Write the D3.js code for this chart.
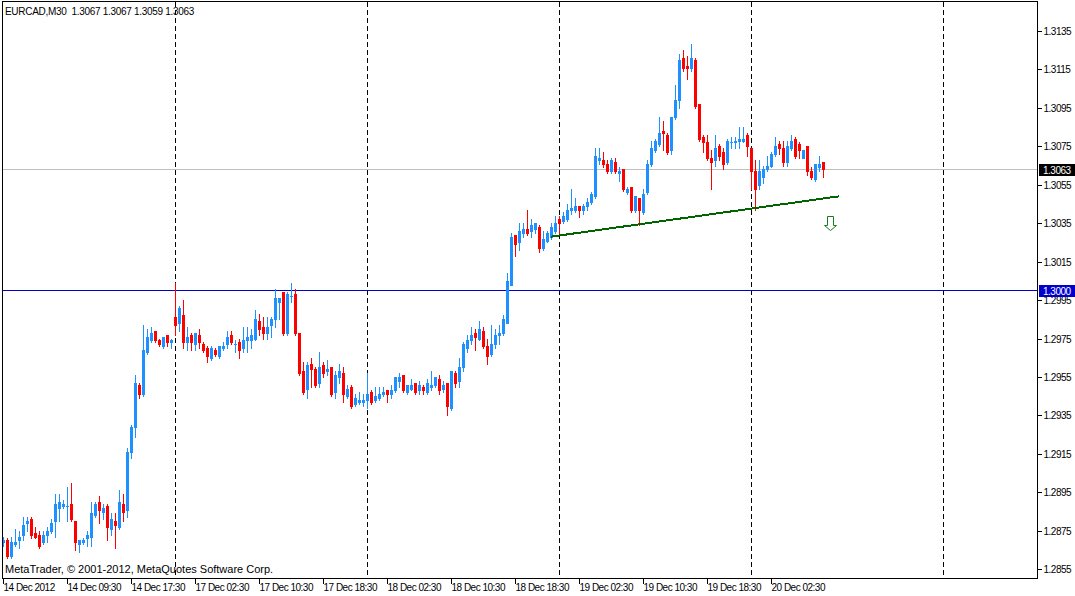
<!DOCTYPE html>
<html lang="en">
<head>
    <meta charset="UTF-8">
    <title>EURCAD,M30</title>
    <style>
        html, body {
            margin: 0;
            padding: 0;
            background: #fff;
        }
        #chart {
            width: 1075px;
            height: 596px;
        }
        svg text {
            font-family: "Liberation Sans", Arial, sans-serif;
            fill: #000;
        }
    </style>
    <script src="https://d3js.org/d3.v7.min.js"></script>
</head>
<body>
    <div id="chart"></div>
    <script>
        // EURCAD M30 bars (oldest first)
        const opens = [
            1.2869,1.2870,1.2862,1.2868,1.2870,1.2873,1.2879,1.2881,1.2874,1.2873,
            1.2869,1.2873,1.2875,1.2880,1.2887,1.2888,1.2888,1.2889,1.2880,1.2868,
            1.2869,1.2871,1.2872,1.2883,1.2890,1.2885,1.2888,1.2876,1.2880,1.2877,
            1.2889,1.2886,1.2916,1.2929,1.2951,1.2946,1.2968,1.2974,1.2979,1.2974,
            1.2971,1.2977,1.2973,1.2986,1.2983,1.2987,1.2973,1.2977,1.2972,1.2977,
            1.2972,1.2970,1.2965,1.2969,1.2966,1.2970,1.2972,1.2977,1.2972,1.2973,
            1.2970,1.2974,1.2974,1.2975,1.2984,1.2981,1.2978,1.2982,1.2985,1.2994,
            1.2999,1.2978,1.2997,1.2998,1.2978,1.2958,1.2949,1.2962,1.2959,1.2952,
            1.2961,1.2958,1.2960,1.2947,1.2955,1.2957,1.2945,1.2950,1.2941,1.2942,
            1.2942,1.2943,1.2947,1.2943,1.2944,1.2946,1.2948,1.2946,1.2948,1.2953,
            1.2956,1.2947,1.2949,1.2952,1.2948,1.2950,1.2947,1.2950,1.2951,1.2954,
            1.2949,1.2952,1.2939,1.2957,1.2953,1.2960,1.2970,1.2974,1.2978,1.2975,
            1.2979,1.2971,1.2967,1.2972,1.2977,1.2978,1.2983,1.3003,1.3029,1.3025,
            1.3030,1.3032,1.3031,1.3032,1.3033,1.3022,1.3026,1.3028,1.3031,1.3037,
            1.3036,1.3037,1.3042,1.3042,1.3044,1.3042,1.3044,1.3046,1.3049,1.3068,
            1.3068,1.3066,1.3062,1.3067,1.3061,1.3063,1.3051,1.3054,1.3042,1.3048,
            1.3041,1.3051,1.3066,1.3073,1.3076,1.3083,1.3081,1.3073,1.3090,1.3099,
            1.3121,1.3117,1.3116,1.3120,1.3097,1.3080,1.3077,1.3069,1.3068,1.3075,
            1.3072,1.3067,1.3077,1.3077,1.3078,1.3078,1.3081,1.3074,1.3062,1.3055,
            1.3059,1.3063,1.3065,1.3071,1.3076,1.3074,1.3067,1.3074,1.3079,1.3076,
            1.3069,1.3075,1.3062,1.3058,1.3064,1.3067
        ];
        const highs = [
            1.2872,1.2871,1.2872,1.2876,1.2875,1.2882,1.2882,1.2882,1.2877,1.2875,
            1.2875,1.2877,1.2881,1.2894,1.2894,1.2891,1.2898,1.2900,1.2880,1.2870,
            1.2871,1.2875,1.2890,1.2890,1.2893,1.2889,1.2889,1.2884,1.2884,1.2896,
            1.2894,1.2918,1.2930,1.2956,1.2952,1.2982,1.2980,1.2981,1.2979,1.2975,
            1.2976,1.2977,1.2975,1.3004,1.2992,1.2995,1.2981,1.2978,1.2978,1.2980,
            1.2973,1.2971,1.2971,1.2970,1.2971,1.2973,1.2979,1.2979,1.2974,1.2975,
            1.2981,1.2981,1.2980,1.2990,1.2988,1.2986,1.2986,1.2986,1.3001,1.2996,
            1.2999,1.2999,1.3004,1.3001,1.2978,1.2963,1.2963,1.2965,1.2960,1.2968,
            1.2963,1.2964,1.2960,1.2958,1.2962,1.2960,1.2951,1.2951,1.2946,1.2947,
            1.2946,1.2957,1.2948,1.2950,1.2950,1.2950,1.2948,1.2951,1.2955,1.2957,
            1.2956,1.2951,1.2954,1.2952,1.2953,1.2951,1.2954,1.2958,1.2955,1.2956,
            1.2953,1.2952,1.2958,1.2958,1.2965,1.2973,1.2977,1.2981,1.2980,1.2984,
            1.2981,1.2975,1.2982,1.2980,1.2982,1.2987,1.3009,1.3030,1.3029,1.3035,
            1.3035,1.3042,1.3037,1.3035,1.3034,1.3031,1.3031,1.3035,1.3039,1.3039,
            1.3041,1.3045,1.3053,1.3048,1.3044,1.3045,1.3048,1.3051,1.3074,1.3074,
            1.3072,1.3068,1.3069,1.3069,1.3064,1.3063,1.3054,1.3054,1.3049,1.3048,
            1.3053,1.3068,1.3078,1.3079,1.3090,1.3088,1.3082,1.3090,1.3107,1.3123,
            1.3125,1.3122,1.3128,1.3121,1.3097,1.3081,1.3081,1.3073,1.3081,1.3076,
            1.3074,1.3079,1.3080,1.3080,1.3085,1.3085,1.3082,1.3074,1.3068,1.3068,
            1.3065,1.3070,1.3072,1.3080,1.3078,1.3078,1.3078,1.3081,1.3080,1.3077,
            1.3073,1.3075,1.3064,1.3066,1.3070,1.3067
        ];
        const lows = [
            1.2867,1.2861,1.2861,1.2867,1.2866,1.2870,1.2875,1.2871,1.2871,1.2866,
            1.2868,1.2869,1.2874,1.2872,1.2880,1.2887,1.2880,1.2880,1.2865,1.2864,
            1.2868,1.2867,1.2867,1.2882,1.2879,1.2881,1.2870,1.2873,1.2866,1.2876,
            1.2880,1.2882,1.2913,1.2924,1.2944,1.2945,1.2967,1.2973,1.2973,1.2971,
            1.2970,1.2971,1.2970,1.2977,1.2979,1.2970,1.2969,1.2969,1.2969,1.2970,
            1.2968,1.2963,1.2964,1.2966,1.2965,1.2969,1.2970,1.2972,1.2968,1.2965,
            1.2968,1.2968,1.2970,1.2974,1.2977,1.2975,1.2975,1.2976,1.2981,1.2985,
            1.2977,1.2977,1.2994,1.2977,1.2956,1.2946,1.2944,1.2950,1.2950,1.2950,
            1.2955,1.2956,1.2945,1.2944,1.2952,1.2942,1.2944,1.2939,1.2940,1.2941,
            1.2940,1.2939,1.2941,1.2942,1.2943,1.2945,1.2942,1.2944,1.2947,1.2950,
            1.2947,1.2946,1.2948,1.2946,1.2946,1.2946,1.2946,1.2948,1.2950,1.2946,
            1.2947,1.2935,1.2938,1.2950,1.2950,1.2958,1.2968,1.2972,1.2969,1.2974,
            1.2970,1.2962,1.2966,1.2970,1.2972,1.2977,1.2983,1.3003,1.3018,1.3021,
            1.3028,1.3029,1.3028,1.3030,1.3020,1.3021,1.3025,1.3027,1.3030,1.3030,
            1.3035,1.3036,1.3040,1.3041,1.3038,1.3040,1.3042,1.3045,1.3048,1.3066,
            1.3064,1.3061,1.3061,1.3061,1.3057,1.3052,1.3050,1.3041,1.3041,1.3034,
            1.3040,1.3050,1.3065,1.3072,1.3075,1.3073,1.3071,1.3071,1.3089,1.3095,
            1.3114,1.3110,1.3114,1.3095,1.3078,1.3072,1.3068,1.3053,1.3065,1.3068,
            1.3063,1.3066,1.3074,1.3074,1.3074,1.3077,1.3070,1.3053,1.3042,1.3053,
            1.3056,1.3062,1.3064,1.3070,1.3071,1.3065,1.3065,1.3073,1.3069,1.3069,
            1.3069,1.3060,1.3058,1.3057,1.3062,1.3059
        ];
        const closes = [
            1.2870,1.2862,1.2869,1.2869,1.2872,1.2878,1.2880,1.2873,1.2872,1.2867,
            1.2873,1.2875,1.2879,1.2889,1.2890,1.2889,1.2888,1.2881,1.2869,1.2870,
            1.2870,1.2873,1.2884,1.2889,1.2886,1.2887,1.2877,1.2881,1.2878,1.2890,
            1.2885,1.2916,1.2929,1.2952,1.2946,1.2969,1.2976,1.2978,1.2974,1.2972,
            1.2976,1.2973,1.2974,1.2982,1.2991,1.2973,1.2976,1.2973,1.2978,1.2973,
            1.2969,1.2966,1.2970,1.2967,1.2971,1.2971,1.2976,1.2973,1.2972,1.2969,
            1.2974,1.2976,1.2977,1.2985,1.2980,1.2978,1.2981,1.2985,1.2996,1.2996,
            1.2978,1.2998,1.2997,1.2978,1.2957,1.2947,1.2961,1.2959,1.2951,1.2960,
            1.2957,1.2959,1.2946,1.2956,1.2958,1.2946,1.2949,1.2940,1.2944,1.2943,
            1.2943,1.2946,1.2942,1.2945,1.2946,1.2947,1.2946,1.2948,1.2955,1.2955,
            1.2948,1.2951,1.2951,1.2947,1.2951,1.2948,1.2952,1.2951,1.2955,1.2948,
            1.2951,1.2940,1.2958,1.2952,1.2960,1.2972,1.2974,1.2977,1.2976,1.2980,
            1.2971,1.2966,1.2972,1.2977,1.2978,1.2985,1.3005,1.3028,1.3024,1.3031,
            1.3032,1.3030,1.3034,1.3035,1.3022,1.3027,1.3030,1.3033,1.3035,1.3035,
            1.3039,1.3042,1.3043,1.3044,1.3042,1.3044,1.3046,1.3050,1.3070,1.3069,
            1.3066,1.3062,1.3068,1.3062,1.3062,1.3053,1.3053,1.3042,1.3049,1.3042,
            1.3050,1.3066,1.3074,1.3078,1.3082,1.3082,1.3072,1.3090,1.3099,1.3120,
            1.3116,1.3116,1.3121,1.3096,1.3079,1.3077,1.3069,1.3067,1.3074,1.3070,
            1.3066,1.3078,1.3077,1.3078,1.3079,1.3079,1.3075,1.3062,1.3053,1.3062,
            1.3063,1.3065,1.3071,1.3075,1.3074,1.3067,1.3075,1.3078,1.3070,1.3073,
            1.3073,1.3062,1.3059,1.3066,1.3066,1.3063
        ];

        const timeTickBars = [0, 16, 32, 48, 64, 80, 96, 112, 128, 144, 160, 176, 192];
        const timeLabels = [
            "14 Dec 2012", "14 Dec 09:30", "14 Dec 17:30", "17 Dec 02:30",
            "17 Dec 10:30", "17 Dec 18:30", "18 Dec 02:30", "18 Dec 10:30",
            "18 Dec 18:30", "19 Dec 02:30", "19 Dec 10:30", "19 Dec 18:30",
            "20 Dec 02:30"
        ];
        const priceTicks = [1.3135, 1.3115, 1.3095, 1.3075, 1.3055, 1.3035, 1.3015,
            1.2995, 1.2975, 1.2955, 1.2935, 1.2915, 1.2895, 1.2875, 1.2855];
        const separatorBars = [43, 91, 139, 187, 235];   // first bar of each day
        const bidPrice = 1.3063;
        const levelPrice = 1.3000;
        const trendPoints = [{ bar: 137, price: 1.3028 }, { bar: 209, price: 1.3049 }];
        const arrowPoint = { bar: 206.75, price: 1.3039 };
        const headerText = "EURCAD,M30  1.3067 1.3067 1.3059 1.3063";
        const copyrightText = "MetaTrader, \u00A9 2001-2012, MetaQuotes Software Corp.";

        const bars = opens.map((o, i) => ({
            i: i, open: o, high: highs[i], low: lows[i], close: closes[i]
        }));

        const W = 1075, H = 596;
        const plot = { left: 2, top: 1, right: 1037, bottom: 578 };
        const bullColor = "#1E90FF", bearColor = "#FF0000";

        const svg = d3.select("#chart").append("svg")
            .attr("width", W)
            .attr("height", H)
            .style("display", "block");

        svg.append("rect").attr("width", W).attr("height", H).attr("fill", "#fff");

        // one bar = 4px, bar 0 sits at x=3
        const x = d3.scaleLinear().domain([0, 100]).range([3, 403]);
        const y = d3.scaleLinear().domain([1.2855, 1.3135]).range([569.2, 31.0]);
        const px = i => Math.round(x(i));
        const py = p => Math.round(y(p));

        const g = svg.append("g").attr("shape-rendering", "crispEdges");

        // day separators
        g.selectAll("line.sep")
            .data(separatorBars)
            .enter().append("line")
            .attr("class", "sep")
            .attr("x1", d => px(d) + 0.5).attr("x2", d => px(d) + 0.5)
            .attr("y1", plot.top + 1).attr("y2", plot.bottom)
            .attr("stroke", "#000")
            .attr("stroke-dasharray", "5,3");

        // bid line and the 1.3000 level
        g.append("line")
            .attr("x1", plot.left).attr("x2", plot.right)
            .attr("y1", py(bidPrice) + 0.5).attr("y2", py(bidPrice) + 0.5)
            .attr("stroke", "#C0C0C0");
        g.append("line")
            .attr("x1", plot.left).attr("x2", plot.right)
            .attr("y1", py(levelPrice) + 0.5).attr("y2", py(levelPrice) + 0.5)
            .attr("stroke", "#0000CD");

        // candles
        const candle = g.selectAll("g.candle")
            .data(bars)
            .enter().append("g")
            .attr("class", "candle");

        candle.append("line")
            .attr("x1", d => px(d.i) + 0.5).attr("x2", d => px(d.i) + 0.5)
            .attr("y1", d => py(Math.max(d.high, d.open, d.close)))
            .attr("y2", d => py(Math.min(d.low, d.open, d.close)) + 1)
            .attr("stroke", d => d.close >= d.open ? bullColor : bearColor);

        candle.append("rect")
            .attr("x", d => px(d.i) - 1)
            .attr("width", 3)
            .attr("y", d => py(Math.max(d.open, d.close)))
            .attr("height", d => Math.max(1, py(Math.min(d.open, d.close)) - py(Math.max(d.open, d.close)) + 1))
            .attr("fill", d => d.close >= d.open ? bullColor : bearColor);

        // trend line
        g.append("path")
            .datum(trendPoints)
            .attr("d", d3.line().x(d => x(d.bar)).y(d => y(d.price)))
            .attr("fill", "none")
            .attr("stroke", "#006400")
            .attr("stroke-width", 2);

        // sell arrow
        const ax = px(arrowPoint.bar), ay = py(arrowPoint.price);
        svg.append("path")
            .attr("d", `M${ax - 2.5},${ay + 0.5} H${ax + 3.5} V${ay + 9.5} H${ax + 6.5}
                        L${ax + 0.5},${ay + 14.5} L${ax - 5.5},${ay + 9.5} H${ax - 2.5} Z`)
            .attr("fill", "#fff")
            .attr("stroke", "#1C7A1C")
            .attr("stroke-width", 1);

        // frame
        g.append("rect")
            .attr("x", plot.left + 0.5).attr("y", plot.top + 0.5)
            .attr("width", plot.right - plot.left).attr("height", plot.bottom - plot.top)
            .attr("fill", "none")
            .attr("stroke", "#000");

        // price scale
        const yAxis = svg.append("g")
            .attr("transform", `translate(${plot.right + 0.5},0)`)
            .attr("shape-rendering", "crispEdges")
            .call(d3.axisRight(y).tickValues(priceTicks).tickSize(4).tickPadding(2)
                .tickFormat(d3.format(".4f")));
        yAxis.select(".domain").remove();
        yAxis.selectAll(".tick").attr("transform", d => `translate(0,${py(d) + 0.5})`);
        yAxis.selectAll(".tick line").attr("stroke", "#000");
        yAxis.selectAll(".tick text")
            .attr("font-family", null)
            .style("font-size", "10px")
            .style("letter-spacing", "-0.5px");

        // price boxes
        const boxes = [
            { price: bidPrice, fill: "#000" },
            { price: levelPrice, fill: "#0000CD" }
        ];
        const box = svg.selectAll("g.pbox")
            .data(boxes)
            .enter().append("g")
            .attr("class", "pbox");
        box.append("rect")
            .attr("x", plot.right + 2)
            .attr("y", d => py(d.price) - 5)
            .attr("width", 36)
            .attr("height", 12)
            .attr("fill", d => d.fill);
        box.append("text")
            .attr("x", plot.right + 6)
            .attr("y", d => py(d.price) + 4.5)
            .style("font-size", "10px")
            .style("letter-spacing", "-0.5px")
            .style("fill", "#fff")
            .text(d => d3.format(".4f")(d.price));

        // time scale
        const xAxis = svg.append("g")
            .attr("transform", `translate(0,${plot.bottom + 0.5})`)
            .attr("shape-rendering", "crispEdges")
            .call(d3.axisBottom(x).tickValues(timeTickBars).tickSize(5)
                .tickFormat((d, k) => timeLabels[k]));
        xAxis.select(".domain").remove();
        xAxis.selectAll(".tick line").attr("stroke", "#000");
        xAxis.selectAll(".tick text")
            .attr("font-family", null)
            .attr("text-anchor", "start")
            .attr("x", 0)
            .attr("y", 12.5)
            .attr("dy", null)
            .style("font-size", "10px")
            .style("letter-spacing", "-0.5px");

        // header and copyright
        svg.append("text")
            .attr("x", 5).attr("y", 15)
            .style("font-size", "10px")
            .style("letter-spacing", "-0.3px")
            .style("white-space", "pre")
            .attr("xml:space", "preserve")
            .text(headerText);

        svg.append("text")
            .attr("x", 5).attr("y", 573)
            .style("font-size", "11px")
            .text(copyrightText);
    </script>
</body>
</html>
